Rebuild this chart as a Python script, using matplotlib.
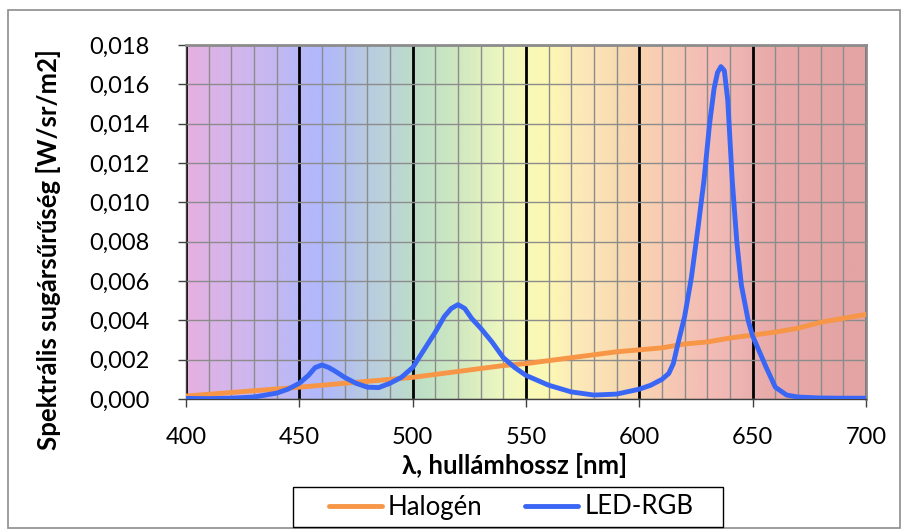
import numpy as np
import matplotlib.pyplot as plt
from matplotlib.colors import LinearSegmentedColormap
from matplotlib.patches import Rectangle
from matplotlib.ticker import MultipleLocator, FuncFormatter

plt.rcParams['font.family'] = ['Lato', 'DejaVu Sans']

# Halogen spectrum (every 10 nm)
halogen_nm = [400, 410, 420, 430, 440, 450, 460, 470, 480, 490, 500, 510, 520, 530, 540,
              550, 560, 570, 580, 590, 600, 610, 620, 630, 640, 650, 660, 670, 680, 690, 700]
halogen = [0.00015, 0.00024, 0.00033, 0.00042, 0.00051, 0.0006, 0.0007, 0.0008, 0.0009, 0.001,
           0.0011, 0.00125, 0.0014, 0.00155, 0.0017, 0.0018, 0.00195, 0.0021, 0.00225, 0.0024,
           0.0025, 0.0026, 0.0028, 0.0029, 0.0031, 0.00325, 0.0034, 0.0036, 0.0039, 0.0041, 0.0043]

# LED-RGB spectrum
led_nm = [400, 410, 420, 430, 440, 445, 450, 454, 457, 460, 463, 466, 470, 475, 480, 485,
          490, 495, 500, 505, 510, 514, 517, 520, 523, 526, 530, 535, 540, 545, 550, 560,
          570, 580, 590, 600, 605, 610, 613, 615, 617, 620, 623, 626, 628.5, 631, 633, 634.5,
          636, 637.5, 639, 641, 643, 645, 648, 650, 653, 656, 660, 665, 670, 680, 690, 700]
led = [0.00003, 0.00002, 0.00004, 0.0001, 0.0003, 0.0005, 0.0008, 0.0012, 0.0016, 0.00173,
       0.0016, 0.0014, 0.0011, 0.0008, 0.0006, 0.00058, 0.0008, 0.0011, 0.0016, 0.0025,
       0.0034, 0.0042, 0.0046, 0.0048, 0.0046, 0.0041, 0.0036, 0.0029, 0.0021, 0.0016,
       0.0012, 0.0007, 0.00036, 0.0002, 0.00025, 0.0005, 0.0007, 0.001, 0.0013, 0.0018,
       0.0028, 0.0042, 0.0062, 0.0088, 0.0111, 0.0140, 0.0158, 0.0166, 0.0169, 0.0167,
       0.0152, 0.0111, 0.0080, 0.0058, 0.0040, 0.0032, 0.0024, 0.0016, 0.0006, 0.0002,
       0.0001, 0.00005, 0.00004, 0.00004]

# spectrum background colours
bg_nm = [400, 410, 420, 430, 440, 450, 460, 470, 480, 490, 500, 510, 520, 530, 540, 550,
         560, 570, 580, 590, 600, 610, 620, 630, 640, 650, 660, 670, 680, 690, 700]
bg_col = ['#e6b0e0', '#dcb3e6', '#d4b5ec', '#ccb7f0', '#c2b8f2', '#b8b8f8', '#b0b8fc',
          '#b4c0ec', '#b8cce0', '#bcd4d8', '#bcdcc8', '#c4e4c4', '#d0e8c0', '#e0f0c0',
          '#eef8c0', '#f8f8b8', '#fcf8b4', '#fcecb8', '#fce4b8', '#f8dcb0', '#f8d4b0',
          '#f8ccb4', '#f4c4b4', '#f4bcb4', '#f0b8b4', '#eab0b0', '#e8aaa8', '#e8a8a8',
          '#e6a6a6', '#e4a4a4', '#e4a4a4']

W, H = 906, 530
fig = plt.figure(figsize=(W / 100, H / 100), dpi=100)
fig.patches.append(Rectangle((8 / W, 2 / H), 892 / W, 518 / H, transform=fig.transFigure,
                             fill=False, edgecolor='#8c8c8c', linewidth=1.2))
ax = fig.add_axes([186 / W, 1 - 399 / H, 680 / W, 354 / H])

cmap = LinearSegmentedColormap.from_list(
    'spec', [((n - 400) / 300, c) for n, c in zip(bg_nm, bg_col)])
ax.imshow(np.linspace(0, 1, 600).reshape(1, -1), cmap=cmap, aspect='auto',
          extent=[400, 700, 0, 0.018], zorder=0, interpolation='bilinear')

ax.set_xlim(400, 700)
ax.set_ylim(0, 0.018)
ax.xaxis.set_major_locator(MultipleLocator(50))
ax.xaxis.set_minor_locator(MultipleLocator(10))
ax.yaxis.set_major_locator(MultipleLocator(0.002))
ax.grid(which='minor', axis='x', color='#8c8c8c', linewidth=1.0, zorder=1)
ax.grid(which='major', axis='y', color='#8c8c8c', linewidth=1.0, zorder=1)
ax.grid(which='major', axis='x', color='black', linewidth=2.0, zorder=1)
ax.set_axisbelow(True)

ax.plot(halogen_nm, halogen, color='#f79646', linewidth=3.5, label='Halogén', zorder=3,
        solid_capstyle='round', solid_joinstyle='round')
ax.plot(led_nm, led, color='#3a66f5', linewidth=3.5, label='LED-RGB', zorder=4,
        solid_capstyle='round', solid_joinstyle='round')

ax.yaxis.set_major_formatter(FuncFormatter(lambda v, p: f'{v:.3f}'.replace('.', ',')))
ax.tick_params(which='major', direction='out', length=6, width=1, labelsize=17,
               color='#404040', pad=20)
ax.tick_params(axis='x', which='minor', length=0)
ax.tick_params(axis='x', pad=14)
for s in ['top', 'right']:
    ax.spines[s].set_color('#8c8c8c')
    ax.spines[s].set_linewidth(2)
for s in ['left', 'bottom']:
    ax.spines[s].set_color('#404040')
    ax.spines[s].set_linewidth(1)

ax.set_xlabel('λ, hullámhossz [nm]', fontsize=18.5, fontweight='bold')
ax.xaxis.set_label_coords((515 - 186) / 680, (399 - 465) / 354)
ax.xaxis.label.set_va('center')
ax.set_ylabel('Spektrális sugársűrűség [W/sr/m2]', fontsize=18.5, fontweight='bold')
ax.yaxis.set_label_coords((49 - 186) / 680, (399 - 250) / 354)
ax.yaxis.label.set_va('center')

fig.patches.append(Rectangle((293 / W, 1 - 527 / H), 430 / W, 40 / H, transform=fig.transFigure,
                             fill=False, edgecolor='black', linewidth=1))
leg = fig.legend(loc='center', bbox_to_anchor=(511 / W, 1 - 507 / H), ncol=2,
                 frameon=False, fontsize=18.5, handlelength=2.05,
                 columnspacing=1.65, borderpad=0.2, handletextpad=0.25)

fig.savefig('out.png', dpi=100)
